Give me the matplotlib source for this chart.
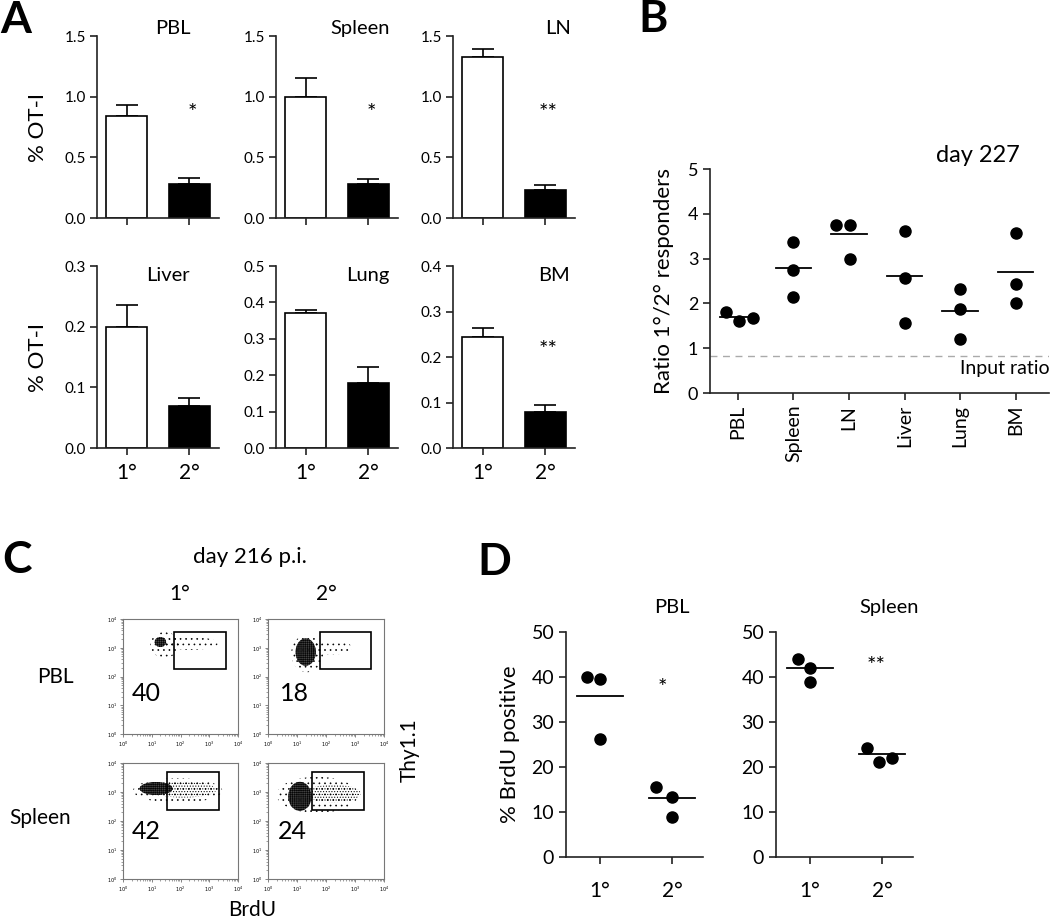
import matplotlib
matplotlib.use("Agg")
import matplotlib.pyplot as plt
from matplotlib.patches import Ellipse, Rectangle
import numpy as np

plt.rcParams['font.family'] = ['Lato', 'DejaVu Sans']
plt.rcParams['hatch.linewidth'] = 0.45

W, H = 1050, 919
fig = plt.figure(figsize=(W / 100, H / 100), dpi=100)


def add_ax(x0, y0, x1, y1):
    return fig.add_axes([x0 / W, 1 - y1 / H, (x1 - x0) / W, (y1 - y0) / H])


AXC = '#222222'

# ---------------- Panel A data ----------------
orgs_A = ['PBL', 'Spleen', 'LN', 'Liver', 'Lung', 'BM']
groups = ['1°', '2°']
mean_1 = [0.84, 1.00, 1.33, 0.199, 0.370, 0.245]
sem_1 = [0.09, 0.15, 0.06, 0.037, 0.008, 0.019]
mean_2 = [0.28, 0.28, 0.23, 0.070, 0.178, 0.080]
sem_2 = [0.05, 0.045, 0.04, 0.012, 0.045, 0.015]
ymax_A = [1.5, 1.5, 1.5, 0.3, 0.5, 0.4]
ystep_A = [0.5, 0.5, 0.5, 0.1, 0.1, 0.1]
sig_A = ['*', '*', '**', '', '', '**']
sig_y_A = [0.865, 0.865, 0.865, None, None, 0.215]

# ---------------- Panel B data ----------------
orgs_B = ['PBL', 'Spleen', 'LN', 'Liver', 'Lung', 'BM']
ratio_pts = [
    [1.80, 1.60, 1.67],
    [3.37, 2.74, 2.15],
    [3.75, 3.75, 2.98],
    [3.62, 2.56, 1.56],
    [2.33, 1.87, 1.21],
    [3.58, 2.44, 2.02],
]
ratio_mean = [1.70, 2.78, 3.55, 2.61, 1.84, 2.71]
input_ratio = 0.83

# ---------------- Panel C data ----------------
flow_pct = [40, 18, 42, 24]
gate_x = [(1.77, 3.57), (1.79, 3.55), (1.53, 3.33), (1.53, 3.32)]
gate_y = [(2.27, 3.56), (2.27, 3.56), (2.37, 3.68), (2.37, 3.68)]
# cloud components per plot: (log BrdU centre, log Thy1.1 centre, width, height, density)
clouds = [
    [(1.45, 3.1, 1.0, 0.9, 'sparse'), (2.35, 3.15, 1.9, 0.45, 'sparse'), (1.3, 3.2, 0.4, 0.35, 'core')],
    [(1.35, 2.8, 1.1, 1.3, 'sparse'), (2.15, 3.0, 1.5, 0.5, 'sparse'), (1.3, 2.85, 0.7, 0.95, 'core')],
    [(1.9, 3.05, 3.1, 0.85, 'sparse'), (2.1, 3.08, 2.3, 0.55, 'dense'), (1.15, 3.12, 1.15, 0.45, 'core')],
    [(1.7, 2.9, 2.8, 1.25, 'sparse'), (2.25, 2.95, 1.9, 0.6, 'dense'), (1.1, 2.85, 0.8, 1.0, 'core')],
]

# ---------------- Panel D data ----------------
brdu_pbl = [[40.0, 39.6, 26.3], [15.6, 13.4, 9.0]]
brdu_spl = [[44.1, 41.9, 38.8], [24.3, 21.1, 22.1]]
brdu_pbl_mean = [35.8, 13.2]
brdu_spl_mean = [42.0, 22.9]

# ================= Panel A =================
colx = [97, 276, 453]
rowy = [(36, 218), (266, 448)]
title_x = [0.62, 0.69, 0.86, 0.58, 0.75, 0.83]
title_y = [1.04, 1.04, 1.04, 0.95, 0.95, 0.95]
for i, org in enumerate(orgs_A):
    r, c = divmod(i, 3)
    ax = add_ax(colx[c], rowy[r][0], colx[c] + 122, rowy[r][1])
    ax.bar([0, 1], [mean_1[i], mean_2[i]], width=0.66, color=['white', 'black'],
           edgecolor='black', linewidth=1.2, zorder=2)
    ax.errorbar([0, 1], [mean_1[i], mean_2[i]], yerr=[[0, 0], [sem_1[i], sem_2[i]]],
                fmt='none', ecolor='black', elinewidth=1.2, capsize=8, capthick=1.2, zorder=1)
    ax.set_xlim(-0.48, 1.48)
    ax.set_ylim(0, ymax_A[i])
    ticks = np.arange(0, ymax_A[i] + 1e-9, ystep_A[i])
    ax.set_yticks(ticks)
    ax.set_yticklabels([f'{t:.1f}' for t in ticks], fontsize=11)
    ax.set_xticks([0, 1])
    if r == 1:
        ax.set_xticklabels(groups, fontsize=15)
    else:
        ax.set_xticklabels([])
    for s in ['top', 'right']:
        ax.spines[s].set_visible(False)
    for s in ['left', 'bottom']:
        ax.spines[s].set_color(AXC)
        ax.spines[s].set_linewidth(1.2)
    ax.tick_params(axis='both', direction='out', length=5, width=1.2, color=AXC, pad=3)
    ax.tick_params(axis='x', pad=6)
    ax.text(title_x[i], title_y[i], org, transform=ax.transAxes, fontsize=14.5,
            ha='center', va='center')
    if sig_A[i]:
        ax.text(1.05, sig_y_A[i], sig_A[i], fontsize=16, ha='center', va='center')
    if c == 0:
        ax.set_ylabel('% OT-I', fontsize=16, labelpad=12)

# ================= Panel B =================
axB = add_ax(710, 169, 1049, 393)
xs = np.arange(len(orgs_B))
jit = [[-0.22, 0.02, 0.27], [0, 0, 0], [-0.24, 0.02, 0.02], [0, 0, 0], [0, 0, 0], [0, 0, 0]]
for k in range(len(orgs_B)):
    axB.plot(xs[k] + np.array(jit[k]), ratio_pts[k], 'o', color='black', ms=8, zorder=3)
    axB.plot([xs[k] - 0.32, xs[k] + 0.32], [ratio_mean[k]] * 2, color='black', lw=1.3)
axB.axhline(input_ratio, color='#aaaaaa', lw=1.0, dashes=(5, 4))
axB.set_xlim(-0.5, 5.6)
axB.set_ylim(0, 5)
axB.set_yticks(range(6))
axB.set_yticklabels([str(v) for v in range(6)], fontsize=13)
axB.set_xticks(xs)
axB.set_xticklabels(orgs_B, rotation=90, fontsize=14)
for s in ['top', 'right']:
    axB.spines[s].set_visible(False)
for s in ['left', 'bottom']:
    axB.spines[s].set_color(AXC)
    axB.spines[s].set_linewidth(1.2)
axB.tick_params(axis='both', direction='out', length=5, width=1.2, color=AXC)
axB.set_ylabel('Ratio 1°/2° responders', fontsize=16, labelpad=10)
axB.text(5.62, 0.55, 'Input ratio', fontsize=14, ha='right', va='center')
fig.text(978 / W, 1 - 155 / H, 'day 227', fontsize=17, ha='center', va='center')

# ================= Panel C =================
posC = [(123, 619, 238, 734), (268, 619, 384, 734), (123, 763, 238, 879), (268, 763, 384, 879)]
hatch_map = {'sparse': '...', 'dense': '......', 'core': '++++++++'}
minor = [n + np.log10(k) for n in range(4) for k in range(2, 10)]
num_pos = [(0.3, 1.42), (0.4, 1.42), (0.3, 1.64), (0.35, 1.64)]
for j, p in enumerate(posC):
    ax = add_ax(*p)
    ax.set_xlim(0, 4)
    ax.set_ylim(0, 4)
    for (cx, cy, w, h, d) in clouds[j]:
        if d == 'core':
            ax.add_patch(Ellipse((cx, cy), w, h, facecolor='#333333', edgecolor='black',
                                 linewidth=0, hatch=hatch_map[d], alpha=0.9))
        else:
            ax.add_patch(Ellipse((cx, cy), w, h, facecolor='none', edgecolor='black',
                                 linewidth=0, hatch=hatch_map[d]))
    ax.add_patch(Rectangle((gate_x[j][0], gate_y[j][0]), gate_x[j][1] - gate_x[j][0],
                           gate_y[j][1] - gate_y[j][0], fill=False, edgecolor='black', lw=1.2))
    ax.text(num_pos[j][0], num_pos[j][1], str(flow_pct[j]), fontsize=18, ha='left', va='center')
    ax.set_xticks(range(5))
    ax.set_yticks(range(5))
    lab = [f'$10^{{{n}}}$' for n in range(5)]
    ax.set_xticklabels(lab, fontsize=3.5)
    ax.set_yticklabels(lab, fontsize=3.5)
    ax.set_xticks(minor, minor=True)
    ax.set_yticks(minor, minor=True)
    ax.tick_params(which='major', length=2.5, width=0.5, color='#555555', pad=1.5)
    ax.tick_params(which='minor', length=1.2, width=0.4, color='#555555')
    for s in ax.spines.values():
        s.set_color('#777777')
        s.set_linewidth(0.8)

fig.text(250 / W, 1 - 557 / H, 'day 216 p.i.', fontsize=16, ha='center', va='center')
fig.text(180 / W, 1 - 594 / H, '1°', fontsize=15, ha='center', va='center')
fig.text(326 / W, 1 - 594 / H, '2°', fontsize=15, ha='center', va='center')
fig.text(55 / W, 1 - 677 / H, 'PBL', fontsize=15, ha='center', va='center')
fig.text(40 / W, 1 - 818 / H, 'Spleen', fontsize=15, ha='center', va='center')
fig.text(410 / W, 1 - 750 / H, 'Thy1.1', fontsize=15, ha='center', va='center', rotation=90)
fig.text(252 / W, 1 - 910 / H, 'BrdU', fontsize=15, ha='center', va='center')

# ================= Panel D =================
def d_panel(x0, title, title_xd, pts, means, sig, sig_x, sig_y, jit, ylabel):
    ax = add_ax(x0, 632, x0 + 137, 857)
    for g in range(2):
        ax.plot(g + np.array(jit[g]), pts[g], 'o', color='black', ms=8, zorder=3)
        ax.plot([g - 0.32, g + 0.32], [means[g]] * 2, color='black', lw=1.3)
    ax.set_xlim(-0.47, 1.43)
    ax.set_ylim(0, 50)
    ax.set_yticks(range(0, 51, 10))
    ax.set_yticklabels([str(v) for v in range(0, 51, 10)], fontsize=14)
    ax.set_xticks([0, 1])
    ax.set_xticklabels(groups, fontsize=15)
    for s in ['top', 'right']:
        ax.spines[s].set_visible(False)
    for s in ['left', 'bottom']:
        ax.spines[s].set_color(AXC)
        ax.spines[s].set_linewidth(1.2)
    ax.tick_params(axis='both', direction='out', length=5, width=1.2, color=AXC)
    ax.tick_params(axis='x', pad=12)
    ax.text(sig_x, sig_y, sig, fontsize=16, ha='center', va='center')
    ax.text(title_xd, 55.5, title, fontsize=14.5, ha='center', va='center')
    if ylabel:
        ax.set_ylabel('% BrdU positive', fontsize=16, labelpad=8)
    return ax

d_panel(566, 'PBL', 1.0, brdu_pbl, brdu_pbl_mean, '*', 0.86, 37.6,
        [[-0.18, 0, 0], [-0.22, 0, 0]], True)
d_panel(776, 'Spleen', 1.1, brdu_spl, brdu_spl_mean, '**', 0.92, 42.4,
        [[-0.17, 0, 0], [-0.21, -0.04, 0.14]], False)

# ================= Panel letters =================
for letter, (lx, ly) in {'A': (16, 20), 'B': (653, 19), 'C': (17, 560), 'D': (494, 562)}.items():
    fig.text(lx / W, 1 - ly / H, letter, fontsize=32, ha='center', va='center', fontweight='bold')

fig.savefig('out.png', dpi=100)
